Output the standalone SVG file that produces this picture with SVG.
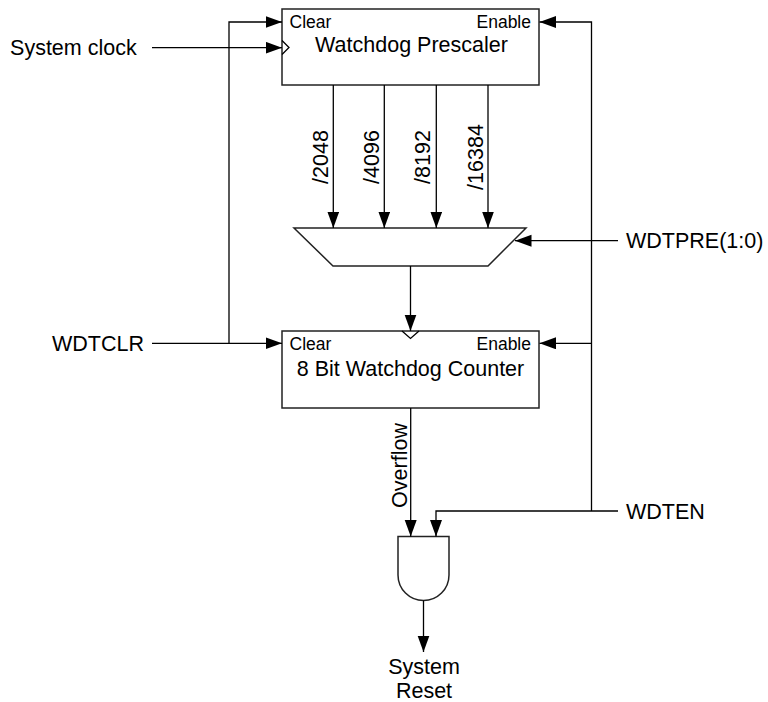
<svg xmlns="http://www.w3.org/2000/svg" width="768" height="702" viewBox="0 0 768 702">
<style>
.box{fill:#fff;stroke:#222;stroke-width:1.5}
.w{fill:none;stroke:#000;stroke-width:1.3}
.t{font-family:"Liberation Sans",Arial,sans-serif;font-size:21.5px;fill:#000}
.s{font-family:"Liberation Sans",Arial,sans-serif;font-size:17.5px;fill:#000}
</style>
<defs>
<marker id="ah" markerUnits="userSpaceOnUse" markerWidth="17" markerHeight="13" refX="16.5" refY="6" orient="auto">
<path d="M0,0 L16.5,6 L0,12 z" fill="#000"/>
</marker>
</defs>
<rect width="768" height="702" fill="#fff"/>
<g id="prescaler">
<rect class="box" x="282" y="9" width="257" height="76"/>
<path class="w" d="M282,40.5 L289,47.5 L282,54.5"/>
<text class="s" x="289.5" y="28.3">Clear</text>
<text class="s" x="531" y="28.3" text-anchor="end">Enable</text>
<text class="t" x="411.5" y="52" text-anchor="middle">Watchdog Prescaler</text>
</g>
<g id="mux">
<path class="box" d="M294,228 L526,228 L488,266 L333,266 Z"/>
</g>
<g id="counter">
<rect class="box" x="282" y="331" width="257" height="77"/>
<path class="w" d="M402,331 L410.5,338.5 L419,331"/>
<text class="s" x="289.5" y="349.6">Clear</text>
<text class="s" x="531" y="349.6" text-anchor="end">Enable</text>
<text class="t" x="410.5" y="375.5" text-anchor="middle">8 Bit Watchdog Counter</text>
</g>
<g id="and">
<path class="box" d="M398,536.5 L449,536.5 L449,575 A25.5,25.5 0 0 1 398,575 Z"/>
</g>
<g id="labels">
<text class="t" x="136.7" y="55" text-anchor="end">System clock</text>
<text class="t" x="144" y="351" text-anchor="end">WDTCLR</text>
<text class="t" x="626" y="248">WDTPRE(1:0)</text>
<text class="t" x="626" y="518.5">WDTEN</text>
<text class="t" x="424" y="673.5" text-anchor="middle">System</text>
<text class="t" x="424" y="697.5" text-anchor="middle">Reset</text>
<text class="t" transform="translate(327.5,157) rotate(-90)" text-anchor="middle">/2048</text>
<text class="t" transform="translate(378.5,157) rotate(-90)" text-anchor="middle">/4096</text>
<text class="t" transform="translate(430,157) rotate(-90)" text-anchor="middle">/8192</text>
<text class="t" transform="translate(482.5,157) rotate(-90)" text-anchor="middle">/16384</text>
<text class="t" transform="translate(407,465.5) rotate(-90)" text-anchor="middle">Overflow</text>
</g>
<g id="connectors">
<path class="w" d="M152,47.7 L282,47.7" marker-end="url(#ah)"/>
<path class="w" d="M229,343.3 L229,22 L282,22" marker-end="url(#ah)"/>
<path class="w" d="M152,343.3 L282,343.3" marker-end="url(#ah)"/>
<path class="w" d="M591.5,511 L591.5,22 L539.5,22" marker-end="url(#ah)"/>
<path class="w" d="M591.5,343.3 L539.5,343.3" marker-end="url(#ah)"/>
<path class="w" d="M618,240.7 L515,240.7" marker-end="url(#ah)"/>
<path class="w" d="M333.3,85 L333.3,228" marker-end="url(#ah)"/>
<path class="w" d="M384.3,85 L384.3,228" marker-end="url(#ah)"/>
<path class="w" d="M436.3,85 L436.3,228" marker-end="url(#ah)"/>
<path class="w" d="M488,85 L488,228" marker-end="url(#ah)"/>
<path class="w" d="M410.5,266 L410.5,331" marker-end="url(#ah)"/>
<path class="w" d="M410.7,408 L410.7,536.5" marker-end="url(#ah)"/>
<path class="w" d="M618,511 L436,511 L436,536.5" marker-end="url(#ah)"/>
<path class="w" d="M423.5,600.5 L423.5,652" marker-end="url(#ah)"/>
</g>
</svg>
